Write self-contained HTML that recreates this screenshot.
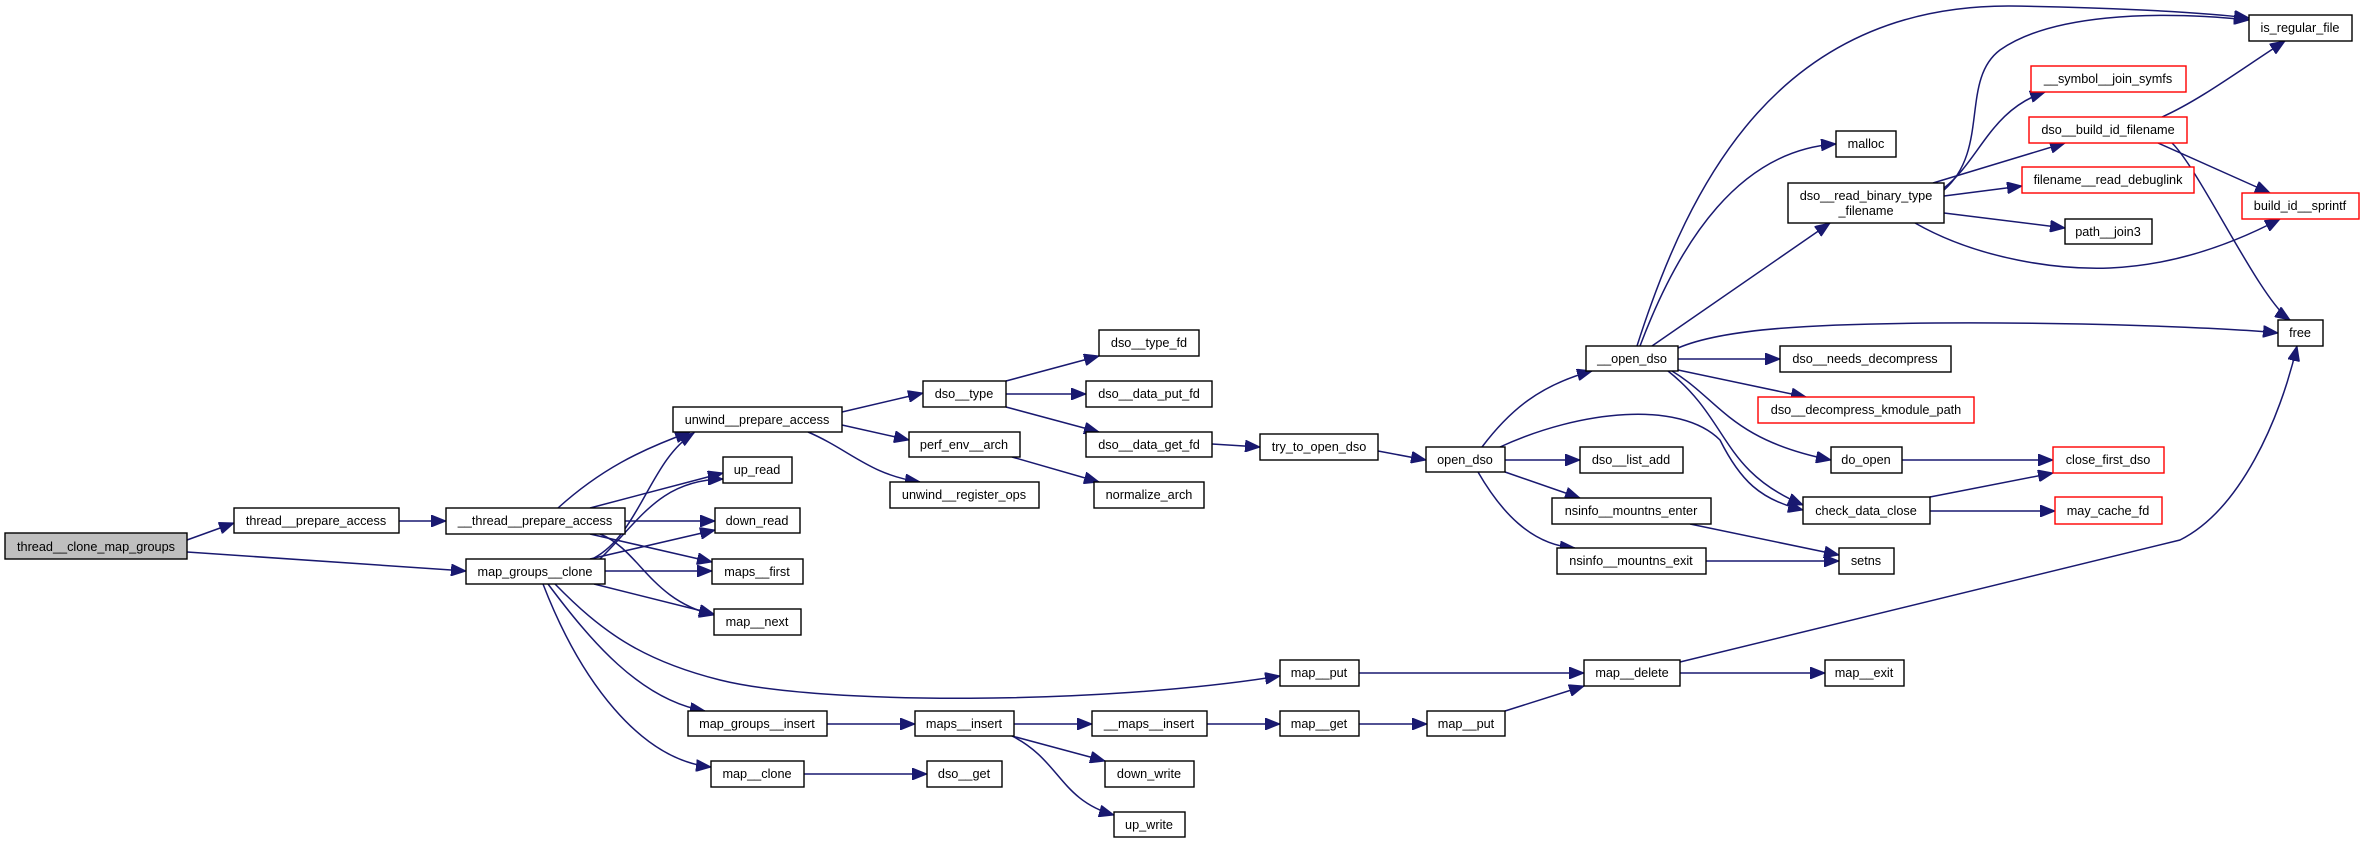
<!DOCTYPE html>
<html><head><meta charset="utf-8"><style>
html,body{margin:0;padding:0;background:#fff;}
svg{display:block;}
text{font-family:"Liberation Sans",Arial,sans-serif;font-size:12.7px;fill:#000;text-anchor:middle;}
.e{fill:none;stroke:#191970;stroke-width:1.5;}
.n{fill:#fff;stroke:#000;stroke-width:1.4;}
.r{fill:#fff;stroke:#ff0000;stroke-width:1.4;}
</style></head><body>
<svg width="2364" height="843" viewBox="0 0 2364 843" xmlns="http://www.w3.org/2000/svg">
<defs>
<marker id="a" markerUnits="userSpaceOnUse" markerWidth="16" markerHeight="12" refX="15" refY="6" orient="auto">
<path d="M0,0 L15,6 L0,12 z" fill="#191970" stroke="#191970"/>
</marker>
</defs>
<g marker-end="url(#a)">
<path class="e" d="M187,540 L234,523"/>
<path class="e" d="M187,552 L466,571"/>
<path class="e" d="M399,521 L446,521"/>
<path class="e" d="M558,508 C600,470 640,450 690,432"/>
<path class="e" d="M590,508 L723,473"/>
<path class="e" d="M625,521 L715,521"/>
<path class="e" d="M590,534 L712,562"/>
<path class="e" d="M600,534 C640,550 650,600 714,615"/>
<path class="e" d="M594,558 C640,533 650,460 694,433"/>
<path class="e" d="M600,559 C640,520 660,480 723,479"/>
<path class="e" d="M590,559 L715,530"/>
<path class="e" d="M605,571 L712,571"/>
<path class="e" d="M594,584 L714,614"/>
<path class="e" d="M555,584 C600,630 640,660 720,680 C820,705 1100,705 1280,676"/>
<path class="e" d="M548,584 C590,640 640,700 705,711"/>
<path class="e" d="M543,584 C580,680 640,760 711,767"/>
<path class="e" d="M842,412 L923,393"/>
<path class="e" d="M842,425 L909,440"/>
<path class="e" d="M808,432 C850,450 870,475 920,482"/>
<path class="e" d="M1006,381 L1099,356"/>
<path class="e" d="M1006,394 L1086,394"/>
<path class="e" d="M1006,407 L1099,432"/>
<path class="e" d="M1012,457 L1099,482"/>
<path class="e" d="M1212,444 L1260,447"/>
<path class="e" d="M1378,451 L1426,460"/>
<path class="e" d="M1482,447 C1510,410 1540,385 1592,371"/>
<path class="e" d="M1505,460 L1580,460"/>
<path class="e" d="M1505,472 L1580,498"/>
<path class="e" d="M1478,472 C1500,510 1530,545 1575,548"/>
<path class="e" d="M1500,447 C1580,410 1680,400 1720,440 C1740,480 1760,500 1803,510"/>
<path class="e" d="M1637,346 C1690,180 1780,5 2010,6 C2100,7 2200,12 2249,18"/>
<path class="e" d="M1640,346 C1680,240 1740,150 1836,144"/>
<path class="e" d="M1652,346 L1830,223"/>
<path class="e" d="M1678,348 C1720,330 1800,322 2000,323 C2150,324 2250,330 2278,333"/>
<path class="e" d="M1678,359 L1780,359"/>
<path class="e" d="M1678,370 L1806,397"/>
<path class="e" d="M1672,371 C1720,400 1730,440 1831,460"/>
<path class="e" d="M1668,371 C1730,420 1720,470 1803,505"/>
<path class="e" d="M1944,190 C1990,150 1960,80 2000,50 C2050,15 2150,10 2249,20"/>
<path class="e" d="M1944,188 C1980,160 1990,110 2045,92"/>
<path class="e" d="M1933,183 L2065,143"/>
<path class="e" d="M1944,196 L2022,186"/>
<path class="e" d="M1944,213 L2065,228"/>
<path class="e" d="M1915,223 C1980,260 2060,270 2110,268 C2180,265 2240,240 2280,219"/>
<path class="e" d="M2162,117 C2200,100 2240,70 2285,41"/>
<path class="e" d="M2158,143 L2270,193"/>
<path class="e" d="M2172,143 C2200,170 2260,300 2290,320"/>
<path class="e" d="M1902,460 L2053,460"/>
<path class="e" d="M1930,497 L2053,473"/>
<path class="e" d="M1930,511 L2055,511"/>
<path class="e" d="M1690,524 L1839,555"/>
<path class="e" d="M1706,561 L1839,561"/>
<path class="e" d="M1359,673 L1584,673"/>
<path class="e" d="M1680,662 L2180,540 C2240,510 2280,420 2297,346"/>
<path class="e" d="M1680,673 L1825,673"/>
<path class="e" d="M1014,724 L1092,724"/>
<path class="e" d="M1012,736 L1105,761"/>
<path class="e" d="M1012,736 C1060,760 1060,800 1114,815"/>
<path class="e" d="M1207,724 L1280,724"/>
<path class="e" d="M1359,724 L1427,724"/>
<path class="e" d="M1505,711 L1584,686"/>
<path class="e" d="M827,724 L915,724"/>
<path class="e" d="M804,774 L927,774"/>
</g>

<rect x="5" y="533" width="182" height="26" fill="#bfbfbf" stroke="#000" stroke-width="1.4"/><text x="96" y="551">thread__clone_map_groups</text>
<rect class="n" x="234" y="508" width="165" height="25"/><text x="316" y="525">thread__prepare_access</text>
<rect class="n" x="446" y="508" width="179" height="26"/><text x="535" y="525">__thread__prepare_access</text>
<rect class="n" x="466" y="559" width="139" height="25"/><text x="535" y="576">map_groups__clone</text>
<rect class="n" x="673" y="407" width="169" height="25"/><text x="757" y="424">unwind__prepare_access</text>
<rect class="n" x="723" y="457" width="69" height="26"/><text x="757" y="474">up_read</text>
<rect class="n" x="715" y="508" width="85" height="25"/><text x="757" y="525">down_read</text>
<rect class="n" x="712" y="559" width="91" height="25"/><text x="757" y="576">maps__first</text>
<rect class="n" x="714" y="609" width="87" height="26"/><text x="757" y="626">map__next</text>
<rect class="n" x="688" y="711" width="139" height="25"/><text x="757" y="728">map_groups__insert</text>
<rect class="n" x="711" y="761" width="93" height="26"/><text x="757" y="778">map__clone</text>
<rect class="n" x="923" y="381" width="83" height="26"/><text x="964" y="398">dso__type</text>
<rect class="n" x="909" y="432" width="111" height="25"/><text x="964" y="449">perf_env__arch</text>
<rect class="n" x="890" y="482" width="149" height="26"/><text x="964" y="499">unwind__register_ops</text>
<rect class="n" x="1099" y="330" width="100" height="26"/><text x="1149" y="347">dso__type_fd</text>
<rect class="n" x="1086" y="381" width="126" height="26"/><text x="1149" y="398">dso__data_put_fd</text>
<rect class="n" x="1086" y="432" width="126" height="25"/><text x="1149" y="449">dso__data_get_fd</text>
<rect class="n" x="1094" y="482" width="110" height="26"/><text x="1149" y="499">normalize_arch</text>
<rect class="n" x="1260" y="434" width="118" height="26"/><text x="1319" y="451">try_to_open_dso</text>
<rect class="n" x="1426" y="447" width="79" height="25"/><text x="1465" y="464">open_dso</text>
<rect class="n" x="1586" y="346" width="92" height="25"/><text x="1632" y="363">__open_dso</text>
<rect class="n" x="1580" y="447" width="103" height="26"/><text x="1631" y="464">dso__list_add</text>
<rect class="n" x="1552" y="498" width="159" height="26"/><text x="1631" y="515">nsinfo__mountns_enter</text>
<rect class="n" x="1557" y="548" width="149" height="26"/><text x="1631" y="565">nsinfo__mountns_exit</text>
<rect class="n" x="1788" y="183" width="156" height="40"/><text x="1866" y="200">dso__read_binary_type</text><text x="1866" y="215">_filename</text>
<rect class="n" x="1836" y="131" width="60" height="26"/><text x="1866" y="148">malloc</text>
<rect class="n" x="1780" y="346" width="171" height="26"/><text x="1865" y="363">dso__needs_decompress</text>
<rect class="r" x="1758" y="397" width="216" height="26"/><text x="1866" y="414">dso__decompress_kmodule_path</text>
<rect class="n" x="1831" y="447" width="71" height="26"/><text x="1866" y="464">do_open</text>
<rect class="n" x="1803" y="497" width="127" height="27"/><text x="1866" y="515">check_data_close</text>
<rect class="n" x="1839" y="548" width="55" height="26"/><text x="1866" y="565">setns</text>
<rect class="n" x="2249" y="15" width="103" height="26"/><text x="2300" y="32">is_regular_file</text>
<rect class="r" x="2031" y="66" width="155" height="26"/><text x="2108" y="83">__symbol__join_symfs</text>
<rect class="r" x="2029" y="117" width="158" height="26"/><text x="2108" y="134">dso__build_id_filename</text>
<rect class="r" x="2022" y="167" width="172" height="26"/><text x="2108" y="184">filename__read_debuglink</text>
<rect class="n" x="2065" y="219" width="87" height="25"/><text x="2108" y="236">path__join3</text>
<rect class="r" x="2242" y="193" width="117" height="26"/><text x="2300" y="210">build_id__sprintf</text>
<rect class="n" x="2278" y="320" width="45" height="26"/><text x="2300" y="337">free</text>
<rect class="r" x="2053" y="447" width="111" height="26"/><text x="2108" y="464">close_first_dso</text>
<rect class="r" x="2055" y="497" width="107" height="27"/><text x="2108" y="515">may_cache_fd</text>
<rect class="n" x="1280" y="660" width="79" height="26"/><text x="1319" y="677">map__put</text>
<rect class="n" x="1584" y="660" width="96" height="26"/><text x="1632" y="677">map__delete</text>
<rect class="n" x="1825" y="660" width="79" height="26"/><text x="1864" y="677">map__exit</text>
<rect class="n" x="915" y="711" width="99" height="25"/><text x="964" y="728">maps__insert</text>
<rect class="n" x="1092" y="711" width="115" height="25"/><text x="1149" y="728">__maps__insert</text>
<rect class="n" x="1280" y="711" width="79" height="25"/><text x="1319" y="728">map__get</text>
<rect class="n" x="1427" y="711" width="78" height="25"/><text x="1466" y="728">map__put</text>
<rect class="n" x="927" y="761" width="75" height="26"/><text x="964" y="778">dso__get</text>
<rect class="n" x="1105" y="761" width="89" height="26"/><text x="1149" y="778">down_write</text>
<rect class="n" x="1114" y="812" width="71" height="25"/><text x="1149" y="829">up_write</text>
</svg>
</body></html>
